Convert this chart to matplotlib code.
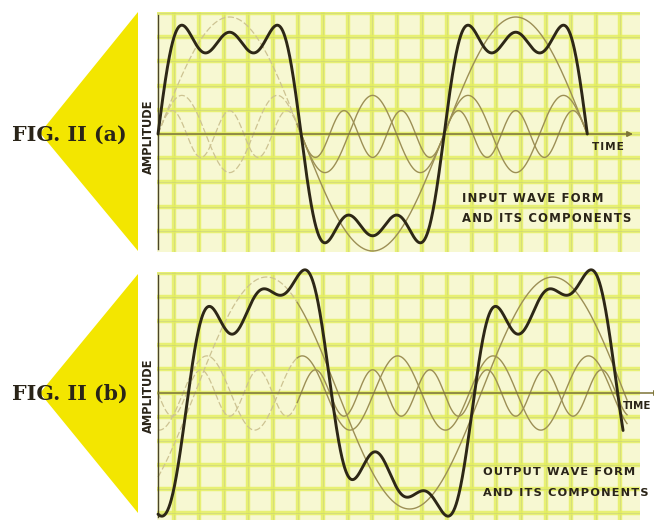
import numpy as np
import matplotlib.pyplot as plt
from matplotlib.patches import Polygon

# Fourier make-up of the waves
# amplitudes relative to the fundamental, delays in degrees of the fundamental
harmonics = [1, 3, 5]
input_amp = [1.0, 0.33, 0.2]
input_delay = [0.0, 0.0, 0.0]
output_amp = [1.0, 0.32, 0.2]
output_delay = [46.5, 31.5, 36.0]
input_end = 540     # degrees of fundamental drawn
output_end = 585
input_comp_end = 540
output_comp_end = 590

fig_labels = ["FIG. II (a)", "FIG. II (b)"]
captions = [["INPUT WAVE FORM", "AND ITS COMPONENTS"],
            ["OUTPUT WAVE FORM", "AND ITS COMPONENTS"]]

W, H = 654, 523
PX_PER_DEG = 0.795

YELLOW = '#f3e600'
PAPER = '#f7f8d2'
GRID = '#e4ef5c'
GRID_THIN = '#b9bf8c'
WAVE = '#2d2716'
COMP = '#9c8f55'
FADED = '#cdc392'
AXIS = '#7d7438'
INK = '#2a2418'


def component(x, n, a, d):
    return a * np.sin(np.radians(n * (x - d)))


def spaced(s):
    # loose letter spacing like the original lettering
    return '\u200a'.join(s)


fig = plt.figure(figsize=(W / 100, H / 100), dpi=100)
bg = fig.add_axes([0, 0, 1, 1])
bg.set_xlim(0, W)
bg.set_ylim(H, 0)
bg.axis('off')

# panel geometry in pixels: (top, bottom, zero line, amplitude px)
panels = [(12, 252, 134, 117), (272, 520, 393, 116)]
tri = [[(40, 133), (138, 12), (138, 251)], [(40, 393), (138, 274), (138, 513)]]

for i, (top, bot, zero, amp_px) in enumerate(panels):
    bg.add_patch(Polygon(tri[i], closed=True, color=YELLOW, lw=0, zorder=1))
    bg.text(12, zero + 1, fig_labels[i], family='DejaVu Serif', weight='bold',
            fontsize=14.8, color=INK, va='center', ha='left', zorder=3)

    ax = fig.add_axes([157 / W, 1 - bot / H, (640 - 157) / W, (bot - top) / H])
    ax.set_xlim((157 - 158) / PX_PER_DEG, (640 - 158) / PX_PER_DEG)
    ax.set_ylim(-(bot - zero) / amp_px, (zero - top) / amp_px)
    ax.set_facecolor(PAPER)
    for s in ax.spines.values():
        s.set_visible(False)
    ax.set_xticks([])
    ax.set_yticks([])

    # graph paper
    gx = np.arange(20 - 31.2, 620, 31.2)
    gy = np.arange(-6, 7) * 0.207
    for v in gx:
        ax.axvline(v, color=GRID, lw=3.2, alpha=0.8, zorder=0)
        ax.axvline(v, color=GRID_THIN, lw=0.5, alpha=0.55, zorder=0)
    for v in gy:
        ax.axhline(v, color=GRID, lw=3.2, alpha=0.8, zorder=0)
        ax.axhline(v, color=GRID_THIN, lw=0.5, alpha=0.55, zorder=0)

    amps = input_amp if i == 0 else output_amp
    delays = input_delay if i == 0 else output_delay
    wave_end = input_end if i == 0 else output_end
    comp_end = input_comp_end if i == 0 else output_comp_end

    xc = np.linspace(0, comp_end, 1500)
    for n, a, d in zip(harmonics, amps, delays):
        yc = component(xc, n, a, d)
        faded = xc <= 175
        ax.plot(xc[faded], yc[faded], color=FADED, lw=0.9, ls=(0, (5, 2)), zorder=2)
        ax.plot(xc[xc >= 175], yc[xc >= 175], color=COMP, lw=1.0, zorder=2)

    xw = np.linspace(0, wave_end, 1500)
    yw = sum(component(xw, n, a, d) for n, a, d in zip(harmonics, amps, delays))
    ax.plot(xw, yw, color=WAVE, lw=2.1, zorder=4, solid_capstyle='round', clip_on=False)

    # axes of the drawing
    ax.plot([0, 0], [-(bot - zero - 3) / amp_px, (zero - top - 3) / amp_px],
            color='#4a4528', lw=1.0, zorder=3, clip_on=False)
    x_arrow = (633 - 158) / PX_PER_DEG if i == 0 else (660 - 158) / PX_PER_DEG
    ax.annotate('', xy=(x_arrow, 0), xytext=(0, 0), annotation_clip=False,
                arrowprops=dict(arrowstyle='-|>', color=AXIS, lw=1.1,
                                mutation_scale=8, shrinkA=0, shrinkB=0), zorder=3)

    bg.text(148, zero + 3, "AMPLITUDE", rotation=90, fontsize=8.3, weight='bold',
            color=INK, ha='center', va='center', zorder=3)
    if i == 0:
        bg.text(592, zero + 13, spaced("TIME"), fontsize=7.6, weight='bold',
                color=INK, ha='left', va='center', zorder=5)
    else:
        bg.text(651, zero + 13, "TIME", fontsize=7.4, weight='bold',
                color=INK, ha='right', va='center', zorder=5)
    cx = 462 if i == 0 else 483
    cy = 198 if i == 0 else 472
    for k, line in enumerate(captions[i]):
        bg.text(cx, cy + 21 * k, spaced(line), fontsize=8.4 if i == 0 else 8.2,
                weight='bold', color=INK, ha='left', va='center', zorder=5)

# overlay sits above the panels so captions show; it has no background
bg.set_zorder(10)
fig.savefig('out.png', dpi=100)
